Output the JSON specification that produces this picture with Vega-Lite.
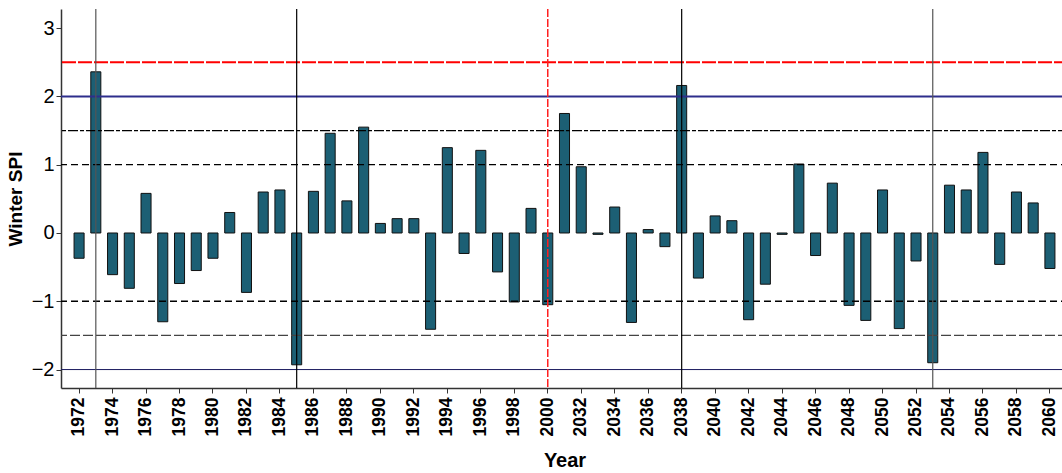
{
  "$schema": "https://vega.github.io/schema/vega-lite/v6.json",
  "autosize": "none",
  "width": 1007,
  "height": 379,
  "padding": {"left": 61, "top": 9, "right": 0, "bottom": 85},
  "background": "white",
  "config": {
    "view": {"stroke": null},
    "font": "Liberation Sans"
  },
  "datasets": {
    "spi": [
      {"year": 1972, "spi": -0.37}, {"year": 1973, "spi": 2.36}, {"year": 1974, "spi": -0.61},
      {"year": 1975, "spi": -0.81}, {"year": 1976, "spi": 0.58}, {"year": 1977, "spi": -1.30},
      {"year": 1978, "spi": -0.74}, {"year": 1979, "spi": -0.55}, {"year": 1980, "spi": -0.37},
      {"year": 1981, "spi": 0.30}, {"year": 1982, "spi": -0.87}, {"year": 1983, "spi": 0.60},
      {"year": 1984, "spi": 0.63}, {"year": 1985, "spi": -1.93}, {"year": 1986, "spi": 0.61},
      {"year": 1987, "spi": 1.46}, {"year": 1988, "spi": 0.47}, {"year": 1989, "spi": 1.55},
      {"year": 1990, "spi": 0.14}, {"year": 1991, "spi": 0.21}, {"year": 1992, "spi": 0.21},
      {"year": 1993, "spi": -1.41}, {"year": 1994, "spi": 1.25}, {"year": 1995, "spi": -0.30},
      {"year": 1996, "spi": 1.21}, {"year": 1997, "spi": -0.57}, {"year": 1998, "spi": -1.01},
      {"year": 1999, "spi": 0.36}, {"year": 2000, "spi": -1.05},
      {"year": 2031, "spi": 1.75}, {"year": 2032, "spi": 0.97}, {"year": 2033, "spi": -0.02},
      {"year": 2034, "spi": 0.38}, {"year": 2035, "spi": -1.31}, {"year": 2036, "spi": 0.05},
      {"year": 2037, "spi": -0.20}, {"year": 2038, "spi": 2.16}, {"year": 2039, "spi": -0.66},
      {"year": 2040, "spi": 0.25}, {"year": 2041, "spi": 0.18}, {"year": 2042, "spi": -1.27},
      {"year": 2043, "spi": -0.75}, {"year": 2044, "spi": -0.02}, {"year": 2045, "spi": 1.01},
      {"year": 2046, "spi": -0.33}, {"year": 2047, "spi": 0.73}, {"year": 2048, "spi": -1.06},
      {"year": 2049, "spi": -1.28}, {"year": 2050, "spi": 0.63}, {"year": 2051, "spi": -1.40},
      {"year": 2052, "spi": -0.41}, {"year": 2053, "spi": -1.90}, {"year": 2054, "spi": 0.70},
      {"year": 2055, "spi": 0.63}, {"year": 2056, "spi": 1.18}, {"year": 2057, "spi": -0.46},
      {"year": 2058, "spi": 0.60}, {"year": 2059, "spi": 0.44}, {"year": 2060, "spi": -0.52}
    ]
  },
  "data": {"name": "spi"},
  "encoding": {
    "x": {
      "field": "year",
      "type": "ordinal",
      "scale": {"paddingInner": 0.4, "paddingOuter": 0.78},
      "axis": {
        "title": "Year",
        "values": [1972,1974,1976,1978,1980,1982,1984,1986,1988,1990,1992,1994,1996,1998,2000,2032,2034,2036,2038,2040,2042,2044,2046,2048,2050,2052,2054,2056,2058,2060],
        "labelAngle": 270,
        "labelFontSize": 17.5,
        "labelFontWeight": "bold",
        "labelColor": "#000",
        "labelPadding": 4,
        "tickSize": 5,
        "tickColor": "#333",
        "domainColor": "#333",
        "domainWidth": 1.5,
        "titleFontSize": 20,
        "titleFontWeight": "bold",
        "titleColor": "#000",
        "titlePadding": 15
      }
    }
  },
  "layer": [
    {
      "mark": {"type": "bar", "fill": "#1c5f74", "stroke": "#111", "strokeWidth": 1},
      "encoding": {
        "y": {
          "field": "spi",
          "type": "quantitative",
          "scale": {"domain": [-2.27, 3.28], "nice": false, "zero": false},
          "axis": {
            "title": "Winter SPI",
            "values": [-2, -1, 0, 1, 2, 3],
            "format": "d",
            "grid": false,
            "labelFontSize": 20,
            "labelColor": "#000",
            "labelPadding": 2,
            "tickSize": 5,
            "tickColor": "#333",
            "domainColor": "#333",
            "domainWidth": 1.5,
            "titleFontSize": 19,
            "titleFontWeight": "bold",
            "titleColor": "#000",
            "titlePadding": 6
          }
        }
      }
    },
    {
      "data": {"values": [{"v": 2.5}]},
      "mark": {"type": "rule", "color": "#ff0000", "strokeWidth": 2.2, "strokeDash": [14, 2]},
      "encoding": {"y": {"field": "v", "type": "quantitative"}, "x": null}
    },
    {
      "data": {"values": [{"v": 2}]},
      "mark": {"type": "rule", "color": "#2e2e8c", "strokeWidth": 2},
      "encoding": {"y": {"field": "v", "type": "quantitative"}, "x": null}
    },
    {
      "data": {"values": [{"v": 1.5}]},
      "mark": {"type": "rule", "color": "#000", "strokeWidth": 1.3, "strokeDash": [10, 2, 4, 2]},
      "encoding": {"y": {"field": "v", "type": "quantitative"}, "x": null}
    },
    {
      "data": {"values": [{"v": 1}, {"v": -1}]},
      "mark": {"type": "rule", "color": "#000", "strokeWidth": 1.3, "strokeDash": [7, 4]},
      "encoding": {"y": {"field": "v", "type": "quantitative"}, "x": null}
    },
    {
      "data": {"values": [{"v": -1.5}]},
      "mark": {"type": "rule", "color": "#444", "strokeWidth": 1.3, "strokeDash": [10, 3]},
      "encoding": {"y": {"field": "v", "type": "quantitative"}, "x": null}
    },
    {
      "data": {"values": [{"v": -2}]},
      "mark": {"type": "rule", "color": "#1a1a5e", "strokeWidth": 1},
      "encoding": {"y": {"field": "v", "type": "quantitative"}, "x": null}
    },
    {
      "data": {"values": [{"year": 1973}, {"year": 2053}]},
      "mark": {"type": "rule", "color": "#555", "strokeWidth": 1.2},
      "encoding": {}
    },
    {
      "data": {"values": [{"year": 1985}, {"year": 2038}]},
      "mark": {"type": "rule", "color": "#000", "strokeWidth": 1.2},
      "encoding": {}
    },
    {
      "data": {"values": [{"year": 2000}]},
      "mark": {"type": "rule", "color": "#ff2020", "strokeWidth": 1.5, "strokeDash": [8, 2]},
      "encoding": {}
    }
  ]
}
